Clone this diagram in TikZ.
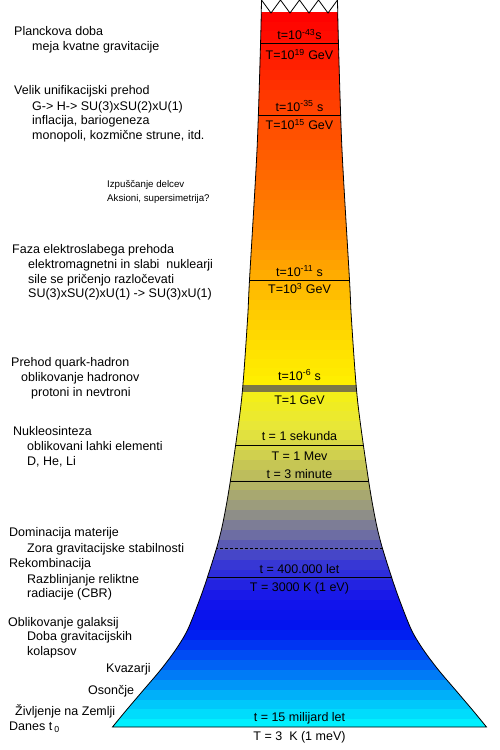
\documentclass[tikz,border=0pt]{standalone}
\usepackage{fontspec}
\setmainfont{Liberation Sans}
\definecolor{c0}{RGB}{255,0,0}
\definecolor{c1}{RGB}{255,20,0}
\definecolor{c2}{RGB}{255,60,0}
\definecolor{c3}{RGB}{255,90,0}
\definecolor{c4}{RGB}{255,120,0}
\definecolor{c5}{RGB}{255,150,0}
\definecolor{c6}{RGB}{255,195,0}
\definecolor{c7}{RGB}{255,225,0}
\definecolor{c8}{RGB}{255,240,0}
\definecolor{c9}{RGB}{245,240,20}
\definecolor{c10}{RGB}{230,230,60}
\definecolor{c11}{RGB}{185,185,95}
\definecolor{c12}{RGB}{150,150,130}
\definecolor{c13}{RGB}{100,100,170}
\definecolor{c14}{RGB}{60,60,210}
\definecolor{c15}{RGB}{20,20,235}
\definecolor{c16}{RGB}{0,20,240}
\definecolor{c17}{RGB}{0,110,245}
\definecolor{c18}{RGB}{0,190,250}
\definecolor{c19}{RGB}{0,250,255}
\definecolor{bandcol}{RGB}{125,120,70}
\begin{document}
\begin{tikzpicture}[x=1pt,y=-1pt,
  lbl/.style={anchor=base west,inner sep=0pt,font=\fontsize{12.5}{14}\selectfont},
  small/.style={anchor=base west,inner sep=0pt,font=\fontsize{9.7}{11}\selectfont},
  val/.style={anchor=base,inner sep=0pt,font=\fontsize{12.5}{14}\selectfont},
  edgeline/.style={line width=0.8pt,black},
]
\useasboundingbox (0,0) rectangle (500,750);
\def\leftpts{(261.5,0) (260.5,45) (257,150) (249.5,280) (247.5,320) (241.5,400) (230.5,480) (223.5,520) (217.5,545) (207.5,577) (199.5,600) (187.5,630) (175.5,650) (160.5,670) (143.5,690) (126.5,710) (112.5,727)}
\def\rightpts{(486.5,727) (472.5,710) (455.5,690) (438.5,670) (423.5,650) (411.5,630) (399.5,600) (391.5,577) (381.5,545) (375.5,520) (368.5,480) (357.5,400) (351.5,320) (349.5,280) (342,150) (338.5,45) (337.5,0)}
\begin{scope}
  \clip plot[smooth] coordinates {\leftpts} -- plot[smooth] coordinates {\rightpts} -- cycle;
  \foreach \ya/\yb/\ca/\cb/\nn in {12/50/c0/c1/4, 50/100/c1/c2/5, 100/150/c2/c3/5,
      150/200/c3/c4/5, 200/250/c4/c5/5, 250/300/c5/c6/5, 300/350/c6/c7/5,
      350/385/c7/c8/4, 392/430/c9/c10/4, 430/480/c10/c11/5, 480/510/c11/c12/3,
      510/540/c12/c13/3, 540/560/c13/c14/2, 560/600/c14/c15/4, 600/630/c15/c16/3,
      630/670/c16/c17/4, 670/700/c17/c18/3, 700/728/c18/c19/3}{
    \foreach \k in {1,...,\nn}{
      \pgfmathsetmacro\ylo{\ya+(\yb-\ya)*(\k-1)/\nn}
      \pgfmathsetmacro\yhi{\ya+(\yb-\ya)*\k/\nn+0.6}
      \pgfmathtruncatemacro\pc{100*(\k-0.5)/\nn}
      \colorlet{stripe}{\cb!\pc!\ca}
      \fill[stripe] (100,\ylo) rectangle (500,\yhi);
    }
  }
  \fill[bandcol] (100,385) rectangle (500,392);
  \foreach \yl in {43,115,280,445,481,577}{
    \draw[edgeline] (100,\yl) -- (500,\yl);
  }
  \draw[line width=0.7pt,dash pattern=on 3pt off 2pt] (100,548) -- (500,548);
\end{scope}
\draw[edgeline] plot[smooth] coordinates {\leftpts} -- plot[smooth] coordinates {\rightpts};
\draw[edgeline] (261.5,0) -- (271,13) -- (280.5,0) -- (290,13) -- (299.5,0) -- (309,13) -- (318.5,0) -- (328,13) -- (337.5,0);

% values in the funnel
\node[val] (v1) at (299.5,39.5) {t=10\textsuperscript{-43}s};
\node[val] (v2) at (299.5,59.5) {T=10\textsuperscript{19} GeV};
\node[val] (v3) at (299.5,111) {t=10\textsuperscript{-35} s};
\node[val] (v4) at (299.5,129.5) {T=10\textsuperscript{15} GeV};
\node[val] (v5) at (299.5,276) {t=10\textsuperscript{-11} s};
\node[val] (v6) at (299.5,293.5) {T=10\textsuperscript{3} GeV};
\node[val] (v7) at (299.5,380) {t=10\textsuperscript{-6} s};
\node[val] (v8) at (299.5,404) {T=1 GeV};
\node[val] (v9) at (299.5,440.5) {t = 1 sekunda};
\node[val] (v10) at (299.5,460) {T = 1 Mev};
\node[val] (v11) at (299.5,478) {t = 3 minute};
\node[val] (v12) at (299.5,573) {t = 400.000 let};
\node[val] (v13) at (299.5,591.5) {T = 3000 K (1 eV)};
\node[val] (v14) at (299.5,721) {t = 15 milijard let};
\node[val] (v15) at (299.5,740) {T = 3\ \ K (1 meV)};

% labels on the left
\node[lbl] (a1) at (14,35.5) {Planckova doba};
\node[lbl] (a2) at (32,50) {meja kvatne gravitacije};
\node[lbl] (b1) at (14,94) {Velik unifikacijski prehod};
\node[lbl] (b2) at (32,110) {G-> H-> SU(3)xSU(2)xU(1)};
\node[lbl] (b3) at (32,124) {inflacija, bariogeneza};
\node[lbl] (b4) at (32,139) {monopoli, kozmične strune, itd.};
\node[small] (c1n) at (107,187.3) {Izpuščanje delcev};
\node[small] (c2n) at (107,201) {Aksioni, supersimetrija?};
\node[lbl] (d1) at (12,253.3) {Faza elektroslabega prehoda};
\node[lbl] (d2) at (28,268.3) {elektromagnetni in slabi\ \ nuklearji};
\node[lbl] (d3) at (28,283.3) {sile se pričenjo razločevati};
\node[lbl] (d4) at (28,297.7) {SU(3)xSU(2)xU(1) -> SU(3)xU(1)};
\node[lbl] (e1) at (11,366.7) {Prehod quark-hadron};
\node[lbl] (e2) at (21,381.7) {oblikovanje hadronov};
\node[lbl] (e3) at (31,396) {protoni in nevtroni};
\node[lbl] (f1) at (13,435.7) {Nukleosinteza};
\node[lbl] (f2) at (27,450.7) {oblikovani lahki elementi};
\node[lbl] (f3) at (27,465.7) {D, He, Li};
\node[lbl] (g1) at (9,536.7) {Dominacija materije};
\node[lbl] (g2) at (27,552.3) {Zora gravitacijske stabilnosti};
\node[lbl] (h1) at (9,567.7) {Rekombinacija};
\node[lbl] (h2) at (27,583.3) {Razblinjanje reliktne};
\node[lbl] (h3) at (27,597.7) {radiacije (CBR)};
\node[lbl] (i1) at (8,626) {Oblikovanje galaksij};
\node[lbl] (i2) at (27,640.7) {Doba gravitacijskih};
\node[lbl] (i3) at (27,655.7) {kolapsov};
\node[lbl] (j1) at (106,672.3) {Kvazarji};
\node[lbl] (j2) at (88,694.3) {Osončje};
\node[lbl] (j3) at (15,715) {Življenje na Zemlji};
\node[lbl] (j4) at (9,730.7) {Danes t\,\textsubscript{0}};
\end{tikzpicture}
\end{document}
